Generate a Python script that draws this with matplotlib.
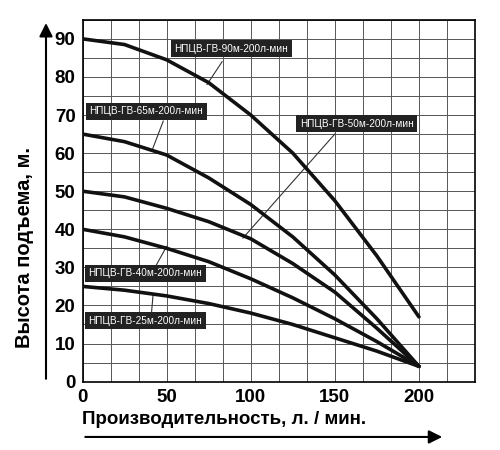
import numpy as np
import matplotlib
matplotlib.use('Agg')
import matplotlib.pyplot as plt

plt.rcParams['font.family'] = ['Liberation Sans', 'DejaVu Sans']

flow = [0, 25, 50, 75, 100, 125, 150, 175, 200]
h90 = [90, 88.5, 84.5, 78.5, 70, 60, 47.5, 33, 17]
h65 = [65, 63, 59.5, 53.5, 46.5, 38, 28, 16.5, 4]
h50 = [50, 48.5, 45.5, 42, 37.5, 31, 23.5, 14, 4]
h40 = [40, 38, 35, 31.5, 27, 22, 16.5, 10.5, 4]
h25 = [25, 24, 22.5, 20.5, 18, 15, 11.5, 8, 4]

# label text, box center, leader start, leader end
labels = [
    ('НПЦВ-ГВ-90м-200л-мин', (88.5, 87.4), (83, 84), (74, 78)),
    ('НПЦВ-ГВ-65м-200л-мин', (38, 71), (48, 68.4), (41.6, 61)),
    ('НПЦВ-ГВ-50м-200л-мин', (163, 67.7), (150, 65), (95.4, 37.7)),
    ('НПЦВ-ГВ-40м-200л-мин', (37.4, 28.5), (44, 30.7), (50, 35.5)),
    ('НПЦВ-ГВ-25м-200л-мин', (37.4, 16), (41, 18), (42, 23)),
]

fig = plt.figure(figsize=(5, 4.5), dpi=100)
ax = fig.add_axes([0.165, 0.152, 0.785, 0.804])

for h in [h90, h65, h50, h40, h25]:
    ax.plot(flow, h, color='#111111', lw=2.6, solid_capstyle='round', solid_joinstyle='round', zorder=3)

for txt, c, p0, p1 in labels:
    ax.plot([p0[0], p1[0]], [p0[1], p1[1]], color='#333333', lw=0.8, zorder=2)
    ax.text(c[0], c[1], txt, color='white', fontsize=7.2, ha='center', va='center', zorder=4,
            bbox=dict(boxstyle='square,pad=0.35', fc='#222222', ec='none'))

ax.set_xlim(0, 700 / 3)
ax.set_ylim(0, 95)
ax.set_xticks(np.arange(0, 233, 50 / 3), minor=True)
ax.set_yticks(np.arange(0, 96, 5), minor=True)
ax.set_xticks([0, 50, 100, 150, 200])
ax.set_yticks(range(0, 91, 10))
ax.grid(True, which='both', color='#555555', lw=0.7)
ax.tick_params(which='both', length=0)
ax.tick_params(labelsize=13.5, pad=5)
for t in ax.get_xticklabels() + ax.get_yticklabels():
    t.set_fontweight('bold')
for s in ax.spines.values():
    s.set_linewidth(1.2)

fig.text(0.163, 0.067, 'Производительность, л. / мин.', fontsize=13.5, fontweight='bold', ha='left', va='center')
fig.text(0.05, 0.45, 'Высота подъема, м.', fontsize=14.5, fontweight='bold', rotation=90, ha='center', va='center')

fig.add_artist(matplotlib.patches.FancyArrowPatch((0.165, 0.029), (0.89, 0.029), transform=fig.transFigure,
               arrowstyle='-|>,head_length=8,head_width=4', color='black', lw=1.5))
fig.add_artist(matplotlib.patches.FancyArrowPatch((0.092, 0.152), (0.092, 0.955), transform=fig.transFigure,
               arrowstyle='-|>,head_length=8,head_width=4', color='black', lw=1.5))

fig.savefig('out.png', dpi=100)
